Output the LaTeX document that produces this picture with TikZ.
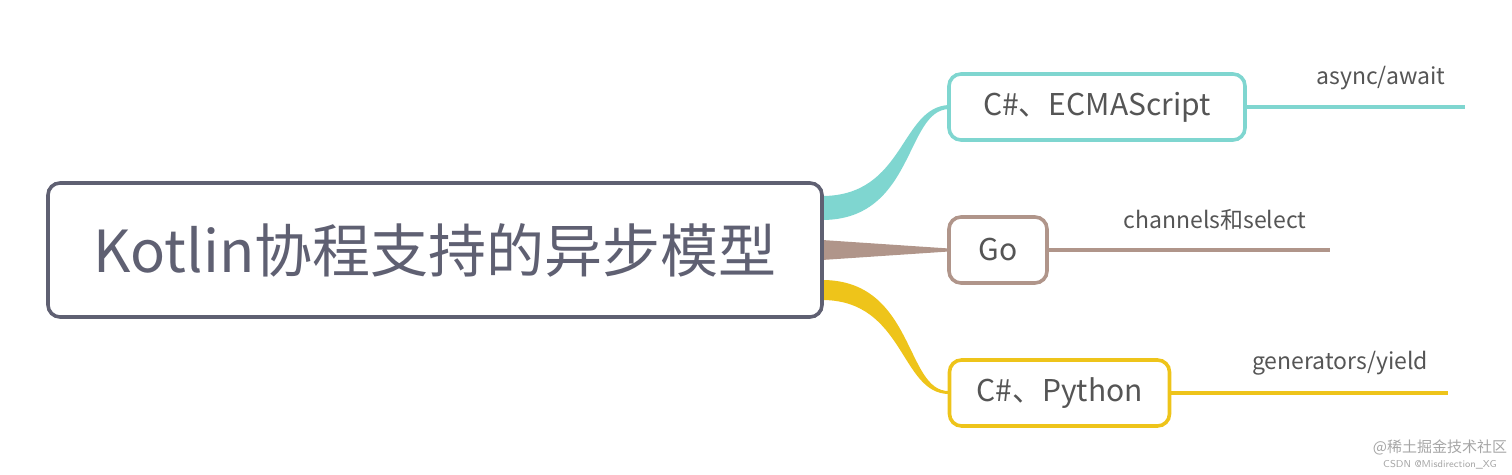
\documentclass[tikz,border=0pt]{standalone}
\usepackage{fontspec}
\setmainfont{Lato}
\newfontfamily\cjk{Noto Sans CJK SC}
\begin{document}
\begin{tikzpicture}[x=0.5pt,y=-0.5pt]
\definecolor{mainc}{HTML}{5F6072}
\definecolor{teal}{HTML}{7FD6D0}
\definecolor{goc}{HTML}{B0958A}
\definecolor{yel}{HTML}{EEC41A}
\definecolor{txt}{HTML}{555555}
\tikzset{box/.style={draw,line width=1.8pt,rounded corners=6pt,fill=white,inner sep=0pt,font=\cjk\fontsize{15}{15}\selectfont,text=txt},
 lab/.style={font=\cjk\fontsize{11.5}{11.5}\selectfont,text=txt,inner sep=0pt}}
\useasboundingbox (0,0) rectangle (1512,475);
% connectors
\fill[teal] (822,196) .. controls (905,196) and (900,107) .. (949,105) -- (949,109) .. controls (905,110) and (915,220) .. (822,220) -- cycle;
\fill[goc] (822,240) -- (949,248.5) -- (949,251.5) -- (822,260) -- cycle;
\fill[yel] (822,280) .. controls (915,280) and (905,392) .. (949,391) -- (949,394) .. controls (900,394) and (905,300) .. (822,300) -- cycle;
% nodes
\node[box,draw=mainc,minimum width=387pt,minimum height=67pt,font=\cjk\fontsize{29}{29}\selectfont,text=mainc] (main) at (435,250) {Kotlin协程支持的异步模型};
\node[box,draw=teal,minimum width=148pt,minimum height=33pt] (cs) at (1097,107) {C\#、ECMAScript};
\node[box,draw=goc,minimum width=49pt,minimum height=33pt] (go) at (998,250) {Go};
\node[box,draw=yel,minimum width=110pt,minimum height=33pt] (py) at (1059.5,393) {C\#、Python};
\coordinate (e1) at (1465,107);
\coordinate (e2) at (1330,250);
\coordinate (e3) at (1448,393);
\draw[teal,line width=1.6pt] (cs.east) -- (e1);
\draw[goc,line width=1.6pt] (go.east) -- (e2);
\draw[yel,line width=1.6pt] (py.east) -- (e3);
\node[lab] (l1) at (1381,78) {async/await};
\node[lab] (l2) at (1215,220) {channels和select};
\node[lab] (l3) at (1340,363) {generators/yield};
\node[font=\cjk\fontsize{7.5}{7.5}\selectfont,text=gray!70,inner sep=0pt] (w1) at (1440,447) {@稀土掘金技术社区};
\node[font=\sffamily\fontsize{5}{5}\selectfont,text=gray!70,inner sep=0pt] (w2) at (1440,465) {CSDN @Misdirection\_XG};
\end{tikzpicture}
\end{document}
